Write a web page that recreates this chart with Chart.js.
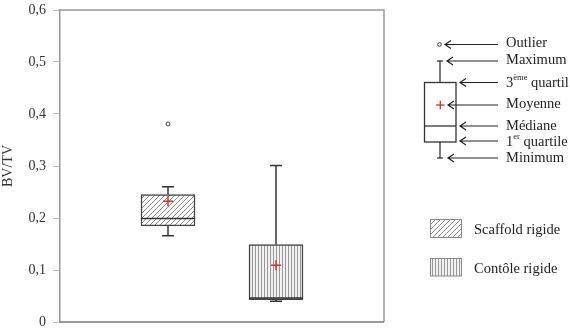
<!DOCTYPE html>
<html>
<head>
<meta charset="utf-8">
<script src="https://cdn.jsdelivr.net/npm/chart.js@4"></script>
<style>
  body { margin: 0; background: #fff; }
  #wrap { position: relative; width: 570px; height: 331px; }
  #legende { position: absolute; left: 0; top: 0; }
  #legende text { font-family: "Liberation Serif", "DejaVu Serif", serif; fill: #222; }
</style>
</head>
<body>
<div id="wrap">
  <canvas id="boxes" width="570" height="331"></canvas>
  <svg id="legende" width="570" height="331">
    <!-- schema du box plot -->
    <g stroke="#333" stroke-width="1.3" fill="none">
      <rect x="424.5" y="82.5" width="31.5" height="59.5" />
      <line x1="424.5" y1="126" x2="456" y2="126" />
      <line x1="440" y1="82.5" x2="440" y2="61" />
      <line x1="437" y1="61" x2="443" y2="61" />
      <line x1="440" y1="142" x2="440" y2="158" />
      <line x1="437" y1="158" x2="443" y2="158" />
      <circle cx="439.5" cy="44.5" r="1.8" stroke-width="1" />
    </g>
    <g stroke="#d03030" stroke-width="1.3">
      <line x1="436" y1="105" x2="444.5" y2="105" />
      <line x1="440.3" y1="100.7" x2="440.3" y2="109.3" />
    </g>
    <!-- fleches -->
    <g stroke="#222" stroke-width="1.2" fill="none">
      <path d="M445,44.5 H498 M451,40.5 L445,44.5 L451,48.5" />
      <path d="M447,61 H498 M453,57 L447,61 L453,65" />
      <path d="M460,82.5 H498 M466,78.5 L460,82.5 L466,86.5" />
      <path d="M448,105 H498 M454,101 L448,105 L454,109" />
      <path d="M460,126 H498 M466,122 L460,126 L466,130" />
      <path d="M460,141 H498 M466,137 L460,141 L466,145" />
      <path d="M448,158 H498 M454,154 L448,158 L454,162" />
    </g>
    <g font-size="14.5" dominant-baseline="central">
      <text x="506" y="42">Outlier</text>
      <text x="506" y="58.5">Maximum</text>
      <text x="506" y="82">3<tspan font-size="8.5" dy="-5">ème</tspan><tspan dy="5"> quartil</tspan></text>
      <text x="506" y="103">Moyenne</text>
      <text x="506" y="124.5">Médiane</text>
      <text x="506" y="141">1<tspan font-size="8.5" dy="-5">er</tspan><tspan dy="5"> quartile</tspan></text>
      <text x="506" y="157">Minimum</text>
    </g>
    <!-- legende des groupes -->
    <defs>
      <pattern id="diag" width="5" height="5" patternUnits="userSpaceOnUse">
        <rect width="5" height="5" fill="#fff" />
        <path d="M0,5 L5,0 M-1,1 L1,-1 M4,6 L6,4" stroke="#888" stroke-width="1" />
      </pattern>
      <pattern id="vert" width="3" height="3" patternUnits="userSpaceOnUse">
        <rect width="3" height="3" fill="#f2f2f2" />
        <line x1="0.5" y1="0" x2="0.5" y2="3" stroke="#999" stroke-width="1" />
      </pattern>
    </defs>
    <rect x="430.5" y="219.5" width="31" height="18" fill="url(#diag)" stroke="#888" stroke-width="1" />
    <rect x="430.5" y="258.5" width="31" height="17.5" fill="url(#vert)" stroke="#888" stroke-width="1" />
    <g font-size="14.5" dominant-baseline="central">
      <text x="474" y="229">Scaffold rigide</text>
      <text x="474" y="268">Contôle rigide</text>
    </g>
  </svg>
</div>
<script>
const groupes = ['Scaffold rigide', 'Contôle rigide'];
const positions = [1, 2];
const minimum = [0.166, 0.040];
const quartile1 = [0.185, 0.043];
const mediane = [0.199, 0.046];
const quartile3 = [0.245, 0.149];
const maximum = [0.260, 0.301];
const moyenne = [0.232, 0.109];
const outliers = [[0.381], []];
const yTicks = [0, 0.1, 0.2, 0.3, 0.4, 0.5, 0.6];

const serif = '"Liberation Serif", "DejaVu Serif", serif';

function motif(type) {
  const c = document.createElement('canvas');
  const ctx = c.getContext('2d');
  if (type === 'diag') {
    c.width = 5; c.height = 5;
    ctx.fillStyle = '#fff'; ctx.fillRect(0, 0, 5, 5);
    ctx.strokeStyle = '#888'; ctx.lineWidth = 1;
    ctx.beginPath();
    ctx.moveTo(0, 5); ctx.lineTo(5, 0);
    ctx.moveTo(-1, 1); ctx.lineTo(1, -1);
    ctx.moveTo(4, 6); ctx.lineTo(6, 4);
    ctx.stroke();
  } else {
    c.width = 3; c.height = 3;
    ctx.fillStyle = '#f2f2f2'; ctx.fillRect(0, 0, 3, 3);
    ctx.strokeStyle = '#999'; ctx.lineWidth = 1;
    ctx.beginPath(); ctx.moveTo(0.5, 0); ctx.lineTo(0.5, 3); ctx.stroke();
  }
  return ctx.createPattern(c, 'repeat');
}

// moustaches, mediane et cadre
const boitesPlugin = {
  id: 'boites',
  beforeDatasetsDraw(chart) {
    const { ctx, chartArea: a } = chart;
    ctx.save();
    ctx.strokeStyle = '#999';
    ctx.lineWidth = 1.5;
    ctx.beginPath();
    ctx.moveTo(a.left, a.top); ctx.lineTo(a.right, a.top); ctx.lineTo(a.right, a.bottom);
    ctx.stroke();
    ctx.strokeStyle = '#777';
    ctx.beginPath();
    ctx.moveTo(a.left, a.bottom); ctx.lineTo(a.right, a.bottom);
    ctx.stroke();
    ctx.restore();
  },
  afterDatasetDraw(chart, args) {
    if (args.index !== 0) return;
    const { ctx, scales: { x, y } } = chart;
    ctx.save();
    ctx.strokeStyle = '#333';
    ctx.lineWidth = 1.5;
    positions.forEach((p, i) => {
      const cx = x.getPixelForValue(p);
      const half = 27;
      ctx.beginPath();
      ctx.moveTo(cx, y.getPixelForValue(quartile3[i]));
      ctx.lineTo(cx, y.getPixelForValue(maximum[i]));
      ctx.moveTo(cx - 6, y.getPixelForValue(maximum[i]));
      ctx.lineTo(cx + 6, y.getPixelForValue(maximum[i]));
      ctx.moveTo(cx, y.getPixelForValue(quartile1[i]));
      ctx.lineTo(cx, y.getPixelForValue(minimum[i]));
      ctx.moveTo(cx - 6, y.getPixelForValue(minimum[i]));
      ctx.lineTo(cx + 6, y.getPixelForValue(minimum[i]));
      ctx.moveTo(cx - half, y.getPixelForValue(mediane[i]));
      ctx.lineTo(cx + half, y.getPixelForValue(mediane[i]));
      ctx.stroke();
    });
    ctx.restore();
  }
};

const ctx = document.getElementById('boxes');
new Chart(ctx, {
  type: 'bar',
  data: {
    datasets: [{
      type: 'bar',
      label: 'boites',
      data: positions.map((p, i) => ({ x: p, y: [quartile1[i], quartile3[i]] })),
      backgroundColor: [motif('diag'), motif('vert')],
      borderColor: '#444',
      borderWidth: 1.5,
      borderSkipped: false,
      barThickness: 54,
      grouped: false,
      order: 2
    }, {
      type: 'scatter',
      label: 'Moyenne',
      data: positions.map((p, i) => ({ x: p, y: moyenne[i] })),
      pointStyle: 'cross',
      radius: 5,
      borderColor: '#d83030',
      borderWidth: 1.5,
      order: 1
    }, {
      type: 'scatter',
      label: 'Outlier',
      data: positions.flatMap((p, i) => outliers[i].map(v => ({ x: p, y: v }))),
      pointStyle: 'circle',
      radius: 2,
      borderColor: '#444',
      backgroundColor: '#fff',
      borderWidth: 1,
      order: 1
    }]
  },
  options: {
    responsive: false,
    animation: false,
    layout: { padding: { left: 0, top: 10, right: 186, bottom: 9 } },
    plugins: { legend: { display: false }, tooltip: { enabled: false } },
    scales: {
      x: { type: 'linear', min: 0, max: 3, offset: false, display: false },
      y: {
        min: 0, max: 0.6,
        afterFit(scale) {
          scale.width = 60;
          scale.paddingTop = 0;
          scale.paddingBottom = 0;
        },
        afterBuildTicks(scale) { scale.ticks = yTicks.map(v => ({ value: v })); },
        ticks: {
          padding: 7,
          color: '#333',
          font: { family: serif, size: 14 },
          callback: v => v === 0 ? '0' : v.toFixed(1).replace('.', ',')
        },
        grid: { drawOnChartArea: false, tickLength: 7, color: '#bbb' },
        border: { color: '#999', width: 1.5 },
        title: {
          display: true, text: 'BV/TV', color: '#333',
          font: { family: serif, size: 14 }, padding: { top: 0, bottom: 4 }
        }
      }
    }
  },
  plugins: [boitesPlugin]
});
</script>
</body>
</html>
